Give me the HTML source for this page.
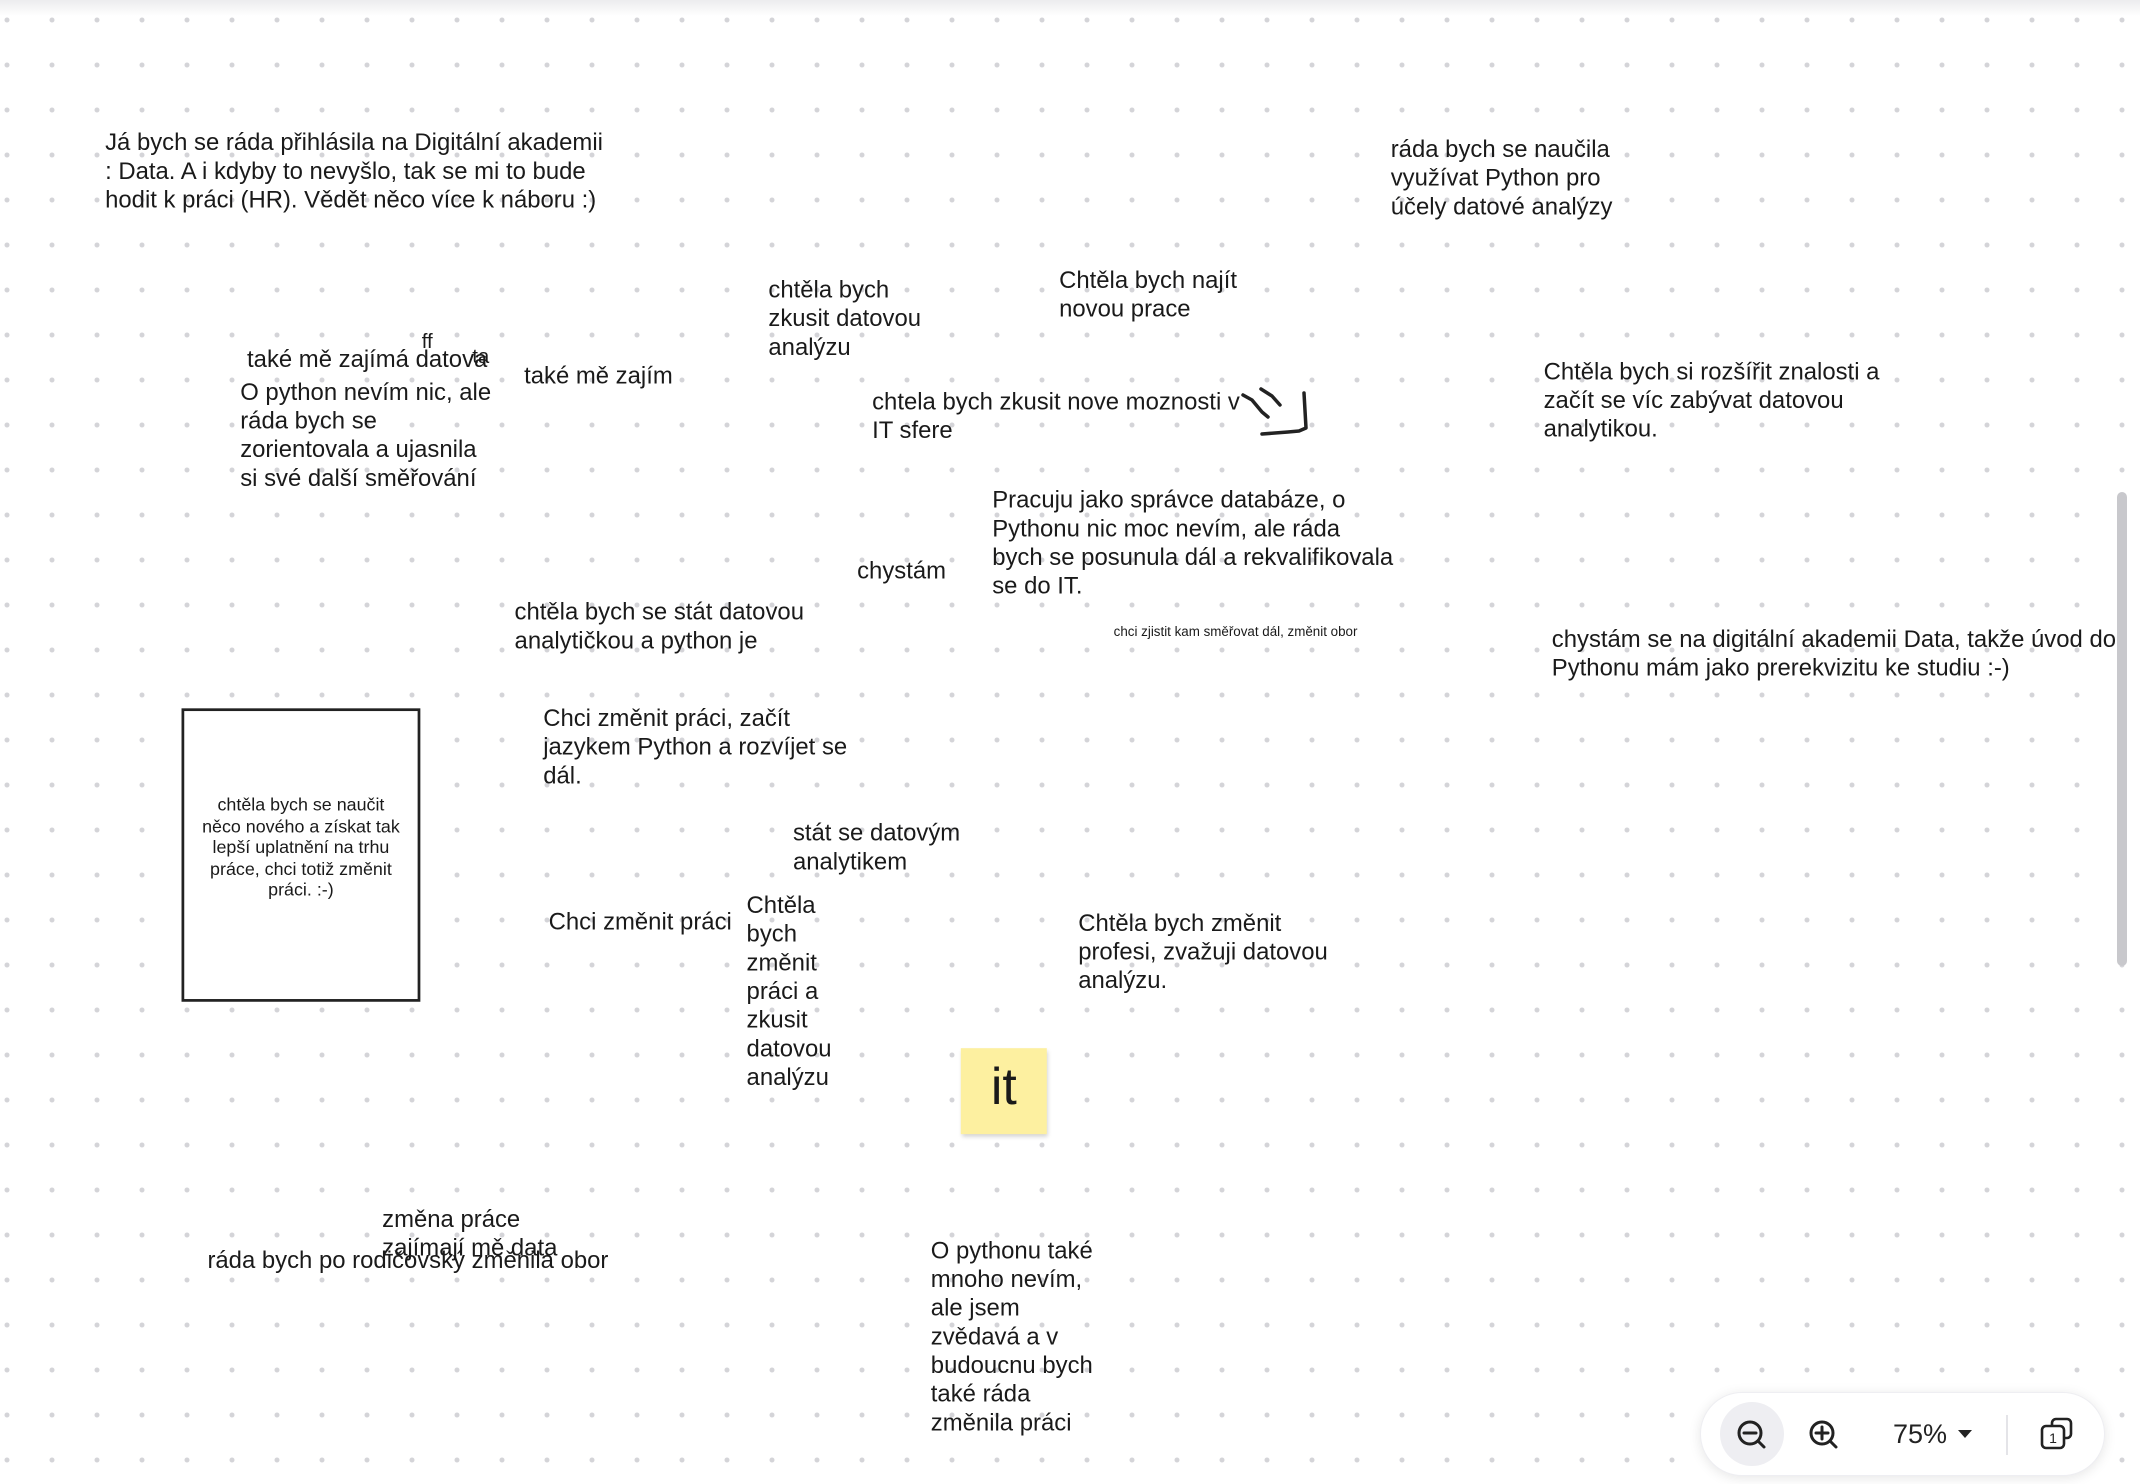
<!DOCTYPE html>
<html><head><meta charset="utf-8"><style>
html,body{margin:0;padding:0}
body{width:2140px;height:1484px;overflow:hidden;position:relative;background-color:#fff;
background-image:radial-gradient(circle,#d4d4d8 2.2px,transparent 2.8px);background-size:45px 45px;background-position:-15.5px -2.5px;
font-family:"Liberation Sans",Arial,sans-serif;}
#top{position:absolute;left:0;top:0;width:2140px;height:16px;background:linear-gradient(#ececee,rgba(255,255,255,0))}
#c{position:absolute;left:0;top:0;width:1568px;height:1087.3px;transform:scale(1.36480);transform-origin:0 0}
.t{position:absolute;font-size:17.5px;line-height:21px;color:#1a1a1a;white-space:nowrap}
.box{position:absolute;left:133px;top:519px;width:171px;height:211px;border:2px solid #222;background:#fff}
.box div{position:absolute;left:-10px;right:-10px;top:61px;text-align:center;font-size:13.1px;line-height:15.5px;color:#1a1a1a}
.sticky{position:absolute;left:704px;top:768px;width:63px;height:63px;background:#fdf0a0;box-shadow:1px 2px 3px rgba(0,0,0,.18);font-size:38px;line-height:58px;text-align:center;color:#1a1a1a}
.tb{position:absolute;left:1700px;top:1392px;width:405px;height:84px;border-radius:42px;background:#fff;box-shadow:0 2px 12px rgba(0,0,0,.1);border:1px solid #eeeef2;box-sizing:border-box}
.sb{position:absolute;left:2117px;top:492px;width:10px;height:474px;border-radius:5px;background:#c8c8cc}
</style></head><body>
<div id="top"></div>
<div id="c">
<div class="t" style="left:77px;top:94px">Já bych se ráda přihlásila na Digitální akademii<br>: Data. A i kdyby to nevyšlo, tak se mi to bude<br>hodit k práci (HR). Vědět něco více k náboru :)</div>
<div class="t" style="left:1019px;top:99px">ráda bych se naučila<br>využívat Python pro<br>účely datové analýzy</div>
<div class="t" style="left:563px;top:202px">chtěla bych<br>zkusit datovou<br>analýzu</div>
<div class="t" style="left:776px;top:195px">Chtěla bych najít<br>novou prace</div>
<div class="t" style="left:181px;top:253px">také mě zajímá datova</div>
<div class="t" style="left:309px;top:240px;font-size:15px">ff</div>
<div class="t" style="left:346px;top:251px;font-size:15px">ta</div>
<div class="t" style="left:176px;top:277px">O python nevím nic, ale<br>ráda bych se<br>zorientovala a ujasnila<br>si své další směřování</div>
<div class="t" style="left:384px;top:265px">také mě zajím</div>
<div class="t" style="left:639px;top:284px">chtela bych zkusit nove moznosti v<br>IT sfere</div>
<div class="t" style="left:1131px;top:262px">Chtěla bych si rozšířit znalosti a<br>začít se víc zabývat datovou<br>analytikou.</div>
<div class="t" style="left:727px;top:356px">Pracuju jako správce databáze, o<br>Pythonu nic moc nevím, ale ráda<br>bych se posunula dál a rekvalifikovala<br>se do IT.</div>
<div class="t" style="left:628px;top:408px">chystám</div>
<div class="t" style="left:377px;top:438px">chtěla bych se stát datovou<br>analytičkou a python je</div>
<div class="t" style="left:816px;top:457px;font-size:9.8px;line-height:13px">chci zjistit kam směřovat dál, změnit obor</div>
<div class="t" style="left:1137px;top:458px">chystám se na digitální akademii Data, takže úvod do<br>Pythonu mám jako prerekvizitu ke studiu :-)</div>
<div class="box"><div>chtěla bych se naučit<br>něco nového a získat tak<br>lepší uplatnění na trhu<br>práce, chci totiž změnit<br>práci. :-)</div></div>
<div class="t" style="left:398px;top:516px">Chci změnit práci, začít<br>jazykem Python a rozvíjet se<br>dál.</div>
<div class="t" style="left:581px;top:600px">stát se datovým<br>analytikem</div>
<div class="t" style="left:402px;top:665px">Chci změnit práci</div>
<div class="t" style="left:547px;top:653px">Chtěla<br>bych<br>změnit<br>práci a<br>zkusit<br>datovou<br>analýzu</div>
<div class="t" style="left:790px;top:666px">Chtěla bych změnit<br>profesi, zvažuji datovou<br>analýzu.</div>
<div class="sticky">it</div>
<div class="t" style="left:280px;top:883px">změna práce</div>
<div class="t" style="left:280px;top:904px">zajímají mě data</div>
<div class="t" style="left:152px;top:913px">ráda bych po rodičovský změnila obor</div>
<div class="t" style="left:682px;top:906px">O pythonu také<br>mnoho nevím,<br>ale jsem<br>zvědavá a v<br>budoucnu bych<br>také ráda<br>změnila práci</div>
</div>
<svg style="position:absolute;left:0;top:0" width="2140" height="1484">
<g fill="none" stroke="#222" stroke-width="3.5" stroke-linecap="round" stroke-linejoin="round">
<path d="M1243,395 L1252,400 L1262,412 L1268,417"/>
<path d="M1261,389 L1272,396 L1280,405"/>
<path d="M1304,393 L1306,428 L1299,431 L1288,432 L1262,434"/>
</g>
</svg>
<div class="sb"></div>
<div class="tb">
<div style="position:absolute;left:19px;top:9px;width:64px;height:64px;border-radius:32px;background:#eeeef2"></div>
<svg style="position:absolute;left:0;top:0" width="405" height="84">
<g fill="none" stroke="#222" stroke-width="3" stroke-linecap="round">
<circle cx="49" cy="40" r="11"/><line x1="43" y1="40" x2="55" y2="40"/><line x1="57" y1="48" x2="63" y2="54"/>
<circle cx="121" cy="40" r="11"/><line x1="115" y1="40" x2="127" y2="40"/><line x1="121" y1="34" x2="121" y2="46"/><line x1="129" y1="48" x2="135" y2="54"/>
</g>
<line x1="306" y1="22" x2="306" y2="62" stroke="#e4e4e8" stroke-width="2"/>
<g fill="none" stroke="#222" stroke-width="2.6">
<path d="M351,33 v-3 a4,4 0 0 1 4,-4 h11 a4,4 0 0 1 4,4 v11 a4,4 0 0 1 -4,4 h-3"/>
<rect x="341" y="33" width="22" height="22" rx="4"/>
</g>
<text x="352" y="50" font-family="Liberation Sans,Arial,sans-serif" font-size="14" text-anchor="middle" fill="#222">1</text>
<text x="192" y="50" font-family="Liberation Sans,Arial,sans-serif" font-size="27" fill="#222">75%</text>
<path d="M257,37 L271,37 L264,45 Z" fill="#222"/>
</svg>
</div>
</body></html>
